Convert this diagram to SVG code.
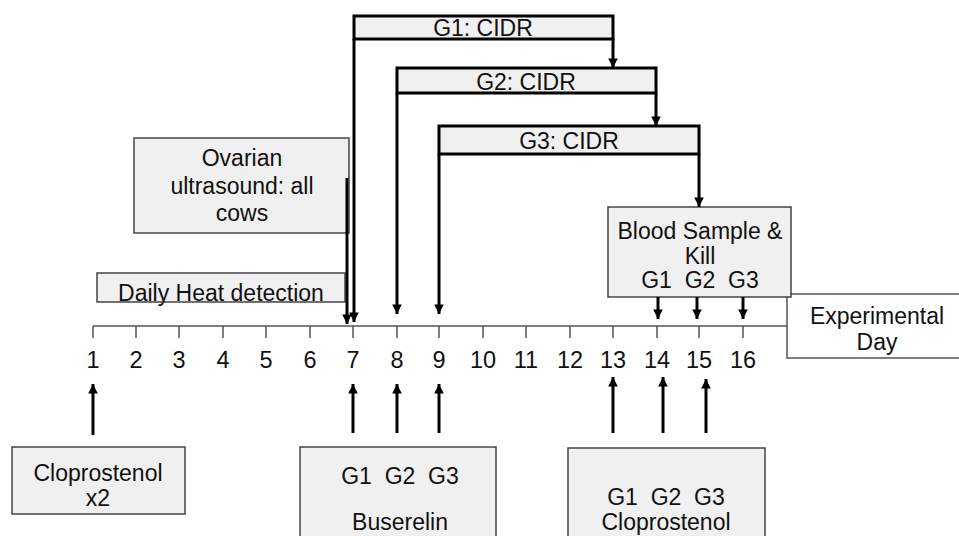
<svg xmlns="http://www.w3.org/2000/svg" width="959" height="536" viewBox="0 0 959 536">
<defs>
<marker id="ah" viewBox="0 0 10 10" refX="10" refY="5" markerWidth="3.4" markerHeight="3.2" orient="auto" markerUnits="strokeWidth">
<path d="M0,0 L10,5 L0,10 z" fill="#000"/>
</marker>
</defs>
<style>
text{font-family:"Liberation Sans",Arial,sans-serif;font-size:23px;fill:#111;text-anchor:middle}
.box{fill:#f0f0f0;stroke:#444;stroke-width:1.5}
.cidr{fill:#f0f0f0;stroke:#000;stroke-width:3}
.arr{fill:none;stroke:#000;stroke-width:3;marker-end:url(#ah)}
.axis{fill:none;stroke:#555;stroke-width:1.5}
.num{font-size:23.5px}
</style>
<rect width="959" height="536" fill="#fff"/>

<g id="timeline">
<line class="axis" x1="93" y1="326" x2="787" y2="326"/>
<path class="axis" d="M93,326V338M136,326V338M179,326V338M223,326V338M266,326V338M310,326V338M353,326V338M397,326V338M439,326V338M483,326V338M526,326V338M570,326V338M613,326V338M657,326V338M699,326V338M743,326V338"/>
<text x="93" y="368" class="num">1</text>
<text x="136" y="368" class="num">2</text>
<text x="179" y="368" class="num">3</text>
<text x="223" y="368" class="num">4</text>
<text x="266" y="368" class="num">5</text>
<text x="310" y="368" class="num">6</text>
<text x="353" y="368" class="num">7</text>
<text x="397" y="368" class="num">8</text>
<text x="439" y="368" class="num">9</text>
<text x="483" y="368" class="num">10</text>
<text x="526" y="368" class="num">11</text>
<text x="570" y="368" class="num">12</text>
<text x="613" y="368" class="num">13</text>
<text x="657" y="368" class="num">14</text>
<text x="699" y="368" class="num">15</text>
<text x="743" y="368" class="num">16</text>
</g>

<g id="experimental-day">
<path d="M959,294H787V358H959" fill="#fff" stroke="#555" stroke-width="1.5"/>
<text x="877" y="324">Experimental</text>
<text x="877" y="350">Day</text>
</g>

<g id="g1-cidr">
<rect class="cidr" x="354" y="16" width="259" height="23"/>
<text x="483" y="36">G1: CIDR</text>
</g>
<g id="g2-cidr">
<rect class="cidr" x="397" y="68" width="259" height="25"/>
<text x="526" y="90">G2: CIDR</text>
</g>
<g id="g3-cidr">
<rect class="cidr" x="439" y="126" width="260" height="28"/>
<text x="569" y="149">G3: CIDR</text>
</g>

<g id="ovarian">
<rect class="box" x="134" y="138" width="215" height="95"/>
<text x="242" y="166">Ovarian</text>
<text x="242" y="194">ultrasound: all</text>
<text x="242" y="221">cows</text>
</g>

<g id="heat">
<rect class="box" x="97" y="273" width="248" height="29"/>
<text x="221" y="301">Daily Heat detection</text>
</g>

<g id="blood">
<rect class="box" x="608" y="207" width="183" height="90"/>
<text x="700" y="239">Blood Sample &amp;</text>
<text x="700" y="264">Kill</text>
<text x="700" y="288" xml:space="preserve">G1  G2  G3</text>
</g>

<g id="clop1">
<rect class="box" x="12" y="447" width="173" height="67"/>
<text x="98" y="481">Cloprostenol</text>
<text x="98" y="506">x2</text>
</g>

<g id="buserelin">
<rect class="box" x="300" y="447" width="196" height="100"/>
<text x="400" y="484" xml:space="preserve">G1  G2  G3</text>
<text x="400" y="530">Buserelin</text>
</g>

<g id="clop2">
<rect class="box" x="568" y="448" width="197" height="100"/>
<text x="666" y="505" xml:space="preserve">G1  G2  G3</text>
<text x="666" y="530">Cloprostenol</text>
</g>

<g id="connectors">
<line class="arr" x1="354" y1="39" x2="354" y2="322"/>
<line class="arr" x1="613" y1="39" x2="613" y2="68"/>
<line class="arr" x1="397" y1="93" x2="397" y2="314"/>
<line class="arr" x1="656" y1="93" x2="656" y2="126"/>
<line class="arr" x1="439" y1="154" x2="439" y2="314"/>
<line class="arr" x1="699" y1="154" x2="699" y2="207"/>
<line class="arr" x1="347" y1="178" x2="347" y2="324"/>
<line class="arr" x1="658" y1="297" x2="658" y2="319"/>
<line class="arr" x1="697" y1="297" x2="697" y2="319"/>
<line class="arr" x1="743" y1="297" x2="743" y2="319"/>
<line class="arr" x1="93" y1="435" x2="93" y2="384"/>
<line class="arr" x1="353" y1="433" x2="353" y2="384"/>
<line class="arr" x1="397" y1="433" x2="397" y2="384"/>
<line class="arr" x1="439" y1="433" x2="439" y2="384"/>
<line class="arr" x1="613" y1="433" x2="613" y2="377"/>
<line class="arr" x1="663" y1="433" x2="663" y2="377"/>
<line class="arr" x1="706" y1="433" x2="706" y2="379"/>
</g>
</svg>
